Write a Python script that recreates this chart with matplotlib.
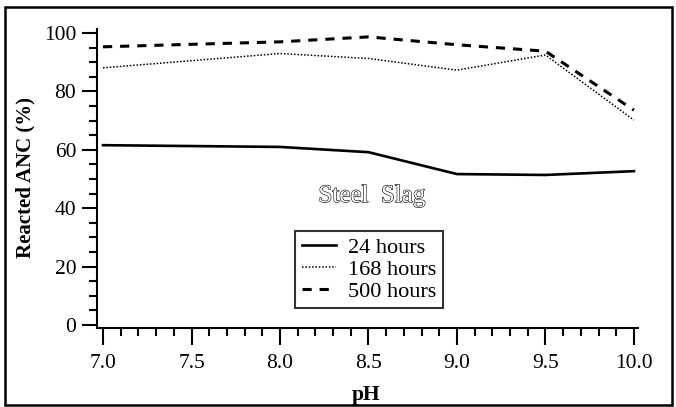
import matplotlib
matplotlib.use("Agg")
import matplotlib.pyplot as plt
from matplotlib.ticker import MultipleLocator
from matplotlib.patches import Rectangle
import matplotlib.patheffects as pe

ph = [7.0, 8.0, 8.5, 9.0, 9.5, 10.0]
anc_24h = [61.6, 61.0, 59.2, 51.7, 51.4, 52.7]
anc_168h = [88.1, 93.0, 91.3, 87.3, 92.5, 70.2]
anc_500h = [95.3, 97.0, 98.7, 96.0, 93.8, 73.6]
series_labels = ["24 hours", "168 hours", "500 hours"]
x_ticks = [7.0, 7.5, 8.0, 8.5, 9.0, 9.5, 10.0]
y_ticks = [0, 20, 40, 60, 80, 100]

plt.rcParams['font.family'] = ['Liberation Serif', 'DejaVu Serif']

W, H = 676, 407
fig = plt.figure(figsize=(W / 100, H / 100), dpi=100)
ax = fig.add_axes([97 / W, 1 - 328 / H, (638 - 97) / W, (328 - 29) / H])

ax.plot(ph, anc_24h, color='black', lw=1.9, label=series_labels[0])
ax.plot(ph, anc_168h, color='black', lw=1.1, linestyle=(0, (1, 1.2)), label=series_labels[1])
ax.plot(ph, anc_500h, color='black', lw=2.2, linestyle=(0, (3, 2.6)), label=series_labels[2])

ax.set_xlim(6.966, 10.023)
ax.set_ylim(-1.03, 101.4)
ax.set_xticks(x_ticks)
ax.set_xticklabels([f"{v:.1f}" for v in x_ticks])
ax.set_yticks(y_ticks)
ax.xaxis.set_minor_locator(MultipleLocator(0.1))
ax.yaxis.set_minor_locator(MultipleLocator(5))

for s in ['top', 'right']:
    ax.spines[s].set_visible(False)
for s in ['left', 'bottom']:
    ax.spines[s].set_linewidth(1.5)

ax.tick_params(axis='y', which='major', direction='out', length=11, width=1.5, labelsize=15.5, pad=4)
ax.tick_params(axis='y', which='minor', direction='out', length=5.5, width=1.5)
ax.tick_params(axis='x', which='major', direction='out', length=12, width=1.5, labelsize=15.5, pad=7)
ax.tick_params(axis='x', which='minor', direction='out', length=6, width=1.5)

fig.text(25 / W, 1 - 178 / H, "Reacted ANC (%)", rotation=90, ha='center', va='center',
         fontsize=15, fontweight='bold')
fig.text(366 / W, 1 - 395 / H, "pH", ha='center', va='center', fontsize=15.5, fontweight='bold')

t = fig.text(372 / W, 1 - 196 / H, "Steel  Slag", ha='center', va='center', fontsize=18,
             color='white')
t.set_path_effects([pe.Stroke(linewidth=0.8, foreground='black'), pe.Normal()])

leg = ax.legend(loc='upper left', bbox_to_anchor=(295 / W, 1 - 231 / H),
                bbox_transform=fig.transFigure, fontsize=16, frameon=True, fancybox=False,
                edgecolor='black', handlelength=1.55, handletextpad=0.55, labelspacing=0.05,
                borderpad=0.3, borderaxespad=0)
leg.get_frame().set_linewidth(1.5)

fig.patches.append(Rectangle((5 / W, 1 - 405 / H), (672 - 5) / W, (405 - 7) / H,
                             transform=fig.transFigure, fill=False, edgecolor='black', lw=1.8))

fig.savefig("out.png", dpi=100)
